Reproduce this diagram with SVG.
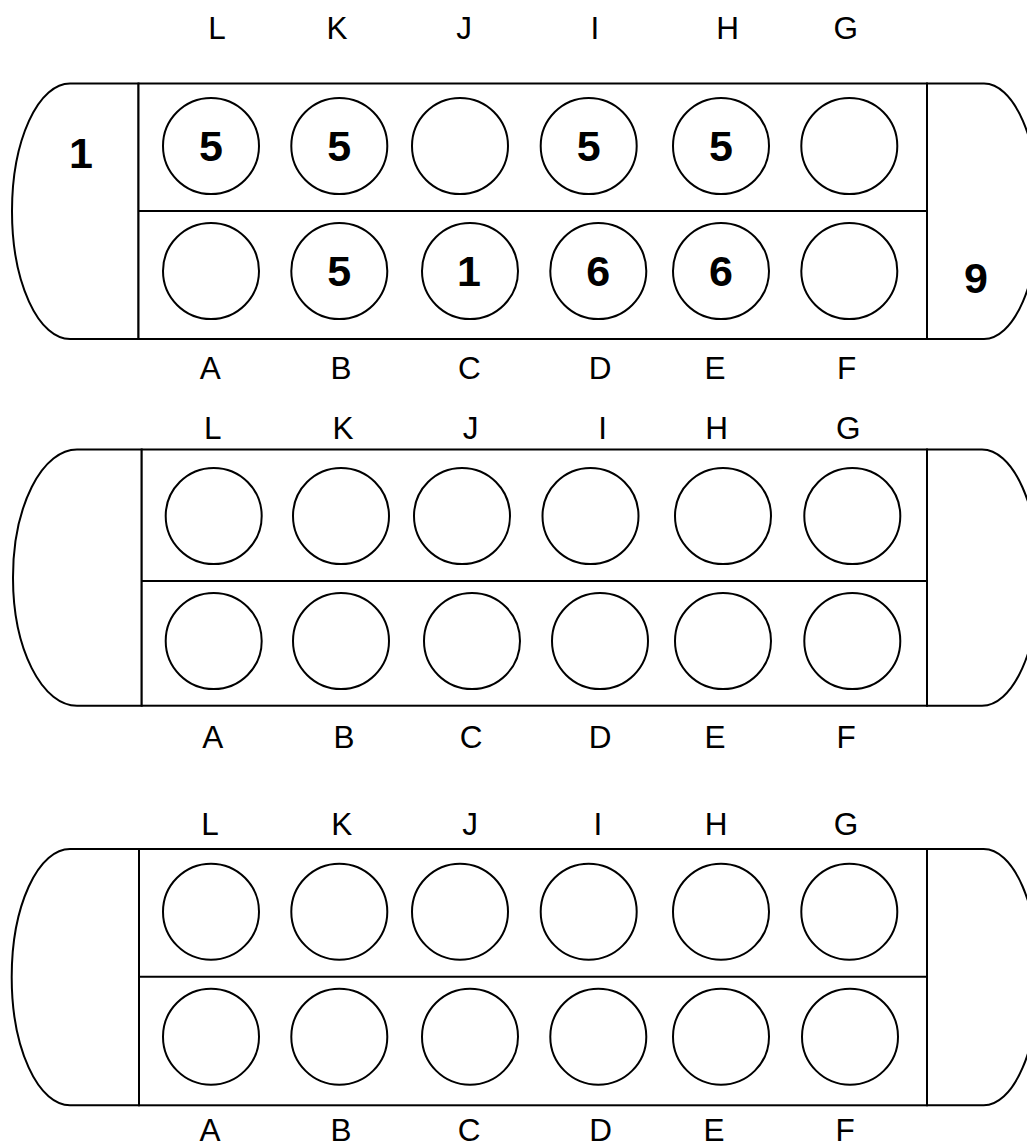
<svg xmlns="http://www.w3.org/2000/svg" width="1027" height="1148" viewBox="0 0 1027 1148">
<style>
.ln{fill:none;stroke:#000;stroke-width:2}
.st{fill:#fff;stroke:#000;stroke-width:2}
.pit{fill:#fff;stroke:#000;stroke-width:2}
.lb{font-family:"Liberation Sans",Arial,sans-serif;font-size:31.5px;text-anchor:middle;fill:#000}
.nm{font-family:"Liberation Sans",Arial,sans-serif;font-size:43px;font-weight:bold;text-anchor:middle;fill:#000}
</style>
<rect width="1027" height="1148" fill="#fff"/>
<g id="board1">
<path class="st" d="M138.5,83.5 H70 A58,127.75 0 0 0 12,211.25 A58,127.75 0 0 0 70,339 H138.5 Z"/>
<path class="st" d="M927,83.5 H984 A55,127.75 0 0 1 1039,211.25 A55,127.75 0 0 1 984,339 H927 Z"/>
<rect class="st" x="138.5" y="83.5" width="788.5" height="255.5"/>
<line class="ln" x1="138.5" y1="211" x2="927" y2="211"/>
<g id="b1-pits">
<circle class="pit" cx="211" cy="146" r="48"/>
<circle class="pit" cx="339.3" cy="146" r="48"/>
<circle class="pit" cx="460" cy="146" r="48"/>
<circle class="pit" cx="588.7" cy="146" r="48"/>
<circle class="pit" cx="721" cy="146" r="48"/>
<circle class="pit" cx="849.3" cy="146" r="48"/>
<circle class="pit" cx="211" cy="271" r="48"/>
<circle class="pit" cx="339.3" cy="271" r="48"/>
<circle class="pit" cx="470" cy="271" r="48"/>
<circle class="pit" cx="598.3" cy="271" r="48"/>
<circle class="pit" cx="721" cy="271" r="48"/>
<circle class="pit" cx="849.3" cy="271" r="48"/>
</g>
<text class="nm" x="81" y="168.3">1</text>
<text class="nm" x="976" y="292.7">9</text>
<text class="nm" x="211" y="160.7">5</text>
<text class="nm" x="339.3" y="160.7">5</text>
<text class="nm" x="588.7" y="160.7">5</text>
<text class="nm" x="721" y="160.7">5</text>
<text class="nm" x="339.3" y="286">5</text>
<text class="nm" x="469" y="286">1</text>
<text class="nm" x="598.3" y="286">6</text>
<text class="nm" x="721" y="286">6</text>
<text class="lb" x="217" y="39.3">L</text>
<text class="lb" x="337" y="39.3">K</text>
<text class="lb" x="464" y="39.3">J</text>
<text class="lb" x="595" y="39.3">I</text>
<text class="lb" x="727.7" y="39.3">H</text>
<text class="lb" x="845.7" y="39.3">G</text>
<text class="lb" x="210.3" y="379">A</text>
<text class="lb" x="341" y="379">B</text>
<text class="lb" x="469.3" y="379">C</text>
<text class="lb" x="600" y="379">D</text>
<text class="lb" x="715" y="379">E</text>
<text class="lb" x="846.7" y="379">F</text>
</g>
<g id="board2">
<path class="st" d="M141.7,449.5 H77 A64,128 0 0 0 13,577.5 A64,128 0 0 0 77,705.7 H141.7 Z"/>
<path class="st" d="M927,449.5 H982 A57,128 0 0 1 1039,577.5 A57,128 0 0 1 982,705.7 H927 Z"/>
<rect class="st" x="141.7" y="449.5" width="785.3" height="256.2"/>
<line class="ln" x1="141.7" y1="581" x2="927" y2="581"/>
<g id="b2-pits">
<circle class="pit" cx="213.7" cy="516" r="48"/>
<circle class="pit" cx="341" cy="516" r="48"/>
<circle class="pit" cx="462" cy="516" r="48"/>
<circle class="pit" cx="590.5" cy="516" r="48"/>
<circle class="pit" cx="723" cy="516" r="48"/>
<circle class="pit" cx="852.3" cy="516" r="48"/>
<circle class="pit" cx="213.7" cy="641" r="48"/>
<circle class="pit" cx="341" cy="641" r="48"/>
<circle class="pit" cx="472" cy="641" r="48"/>
<circle class="pit" cx="600" cy="641" r="48"/>
<circle class="pit" cx="723" cy="641" r="48"/>
<circle class="pit" cx="852.3" cy="641" r="48"/>
</g>
<text class="lb" x="212.7" y="439">L</text>
<text class="lb" x="343" y="439">K</text>
<text class="lb" x="470.7" y="439">J</text>
<text class="lb" x="602.7" y="439">I</text>
<text class="lb" x="716.7" y="439">H</text>
<text class="lb" x="848.3" y="439">G</text>
<text class="lb" x="212.7" y="748.3">A</text>
<text class="lb" x="344" y="748.3">B</text>
<text class="lb" x="471" y="748.3">C</text>
<text class="lb" x="600" y="748.3">D</text>
<text class="lb" x="715" y="748.3">E</text>
<text class="lb" x="846" y="748.3">F</text>
</g>
<g id="board3">
<path class="st" d="M139,849 H70 A58.3,128 0 0 0 11.7,977 A58.3,128 0 0 0 70,1105.3 H139 Z"/>
<path class="st" d="M927,849 H983.7 A55,128 0 0 1 1038.7,977 A55,128 0 0 1 983.7,1105.3 H927 Z"/>
<rect class="st" x="139" y="849" width="788" height="256.3"/>
<line class="ln" x1="139" y1="976.7" x2="927" y2="976.7"/>
<g id="b3-pits">
<circle class="pit" cx="211" cy="911.7" r="48"/>
<circle class="pit" cx="339.3" cy="911.7" r="48"/>
<circle class="pit" cx="460" cy="911.7" r="48"/>
<circle class="pit" cx="588.7" cy="911.7" r="48"/>
<circle class="pit" cx="721" cy="911.7" r="48"/>
<circle class="pit" cx="849.3" cy="911.7" r="48"/>
<circle class="pit" cx="211" cy="1036.7" r="48"/>
<circle class="pit" cx="339.3" cy="1036.7" r="48"/>
<circle class="pit" cx="470" cy="1036.7" r="48"/>
<circle class="pit" cx="598.3" cy="1036.7" r="48"/>
<circle class="pit" cx="721" cy="1036.7" r="48"/>
<circle class="pit" cx="850" cy="1036.7" r="48"/>
</g>
<text class="lb" x="210" y="835">L</text>
<text class="lb" x="341.7" y="835">K</text>
<text class="lb" x="470" y="835">J</text>
<text class="lb" x="598" y="835">I</text>
<text class="lb" x="716" y="835">H</text>
<text class="lb" x="846" y="835">G</text>
<text class="lb" x="210" y="1140.5">A</text>
<text class="lb" x="341" y="1140.5">B</text>
<text class="lb" x="469" y="1140.5">C</text>
<text class="lb" x="600.7" y="1140.5">D</text>
<text class="lb" x="714" y="1140.5">E</text>
<text class="lb" x="845" y="1140.5">F</text>
</g>
<g id="connectors"/>
</svg>
